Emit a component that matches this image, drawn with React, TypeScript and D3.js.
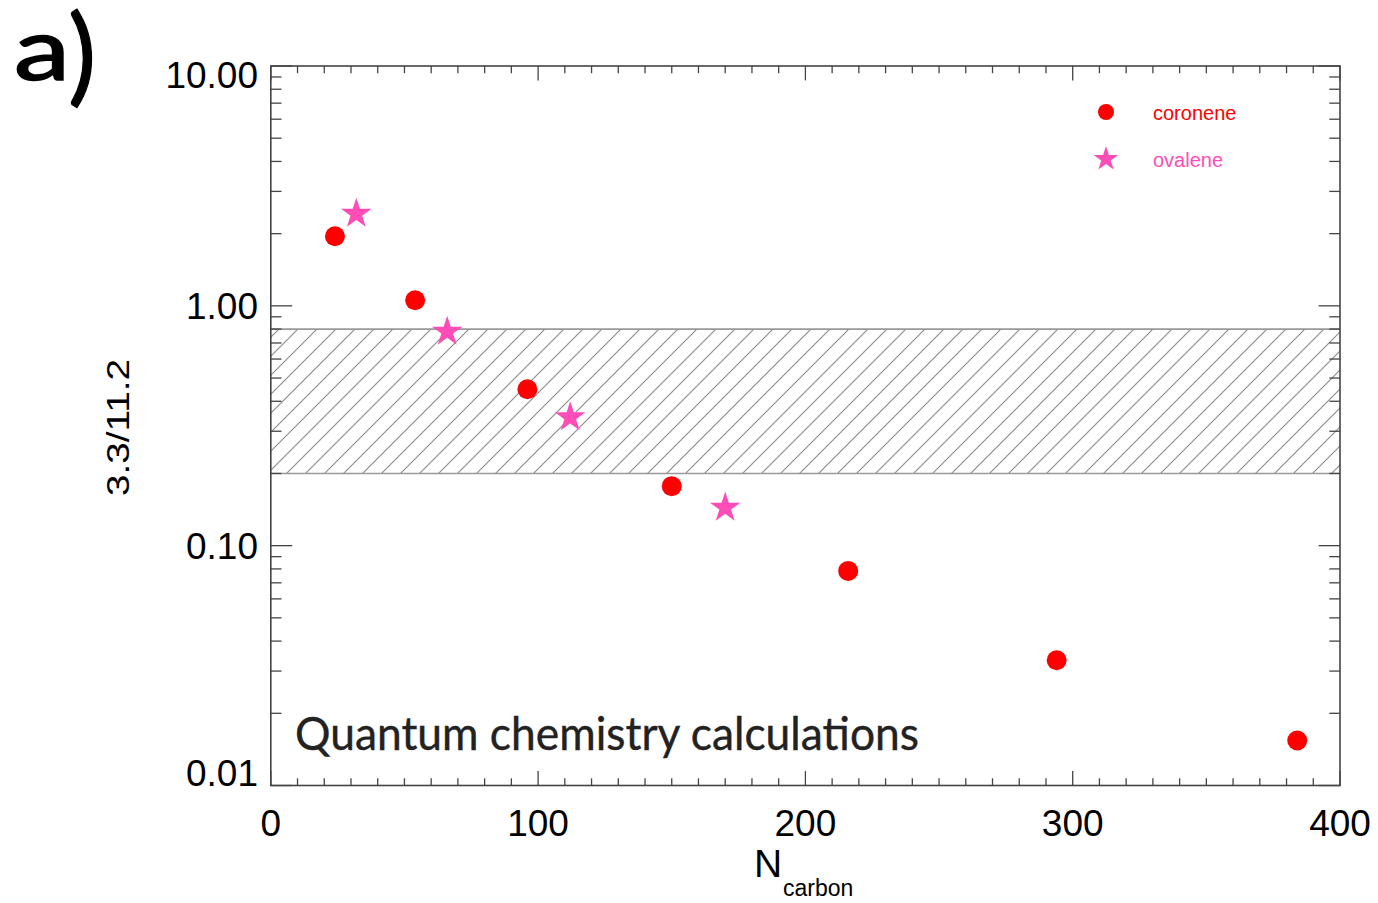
import React from "react";
import * as d3 from "d3";

const coroneneN = [24, 54, 96, 150, 216, 294, 384];
const coroneneRatio = [1.95, 1.055, 0.449, 0.177, 0.0785, 0.0333, 0.0154];
const ovaleneN = [32, 66, 112, 170];
const ovaleneRatio = [2.42, 0.78, 0.343, 0.144];
const bandRange = [0.2, 0.8];
const xTickValues = [0, 100, 200, 300, 400];
const yTickValues = [10, 1, 0.1, 0.01];
const yTickLabels = ["10.00", "1.00", "0.10", "0.01"];

const W = 1378;
const H = 903;
const L = 270.8, R = 1340, T = 66, B = 785.5;

export default function App() {
  const x = d3.scaleLinear().domain([0, 400]).range([L, R]);
  const y = d3.scaleLog().domain([0.01, 10]).range([B, T]);

  const xMinor = d3.range(0, 401, 10);
  const yMinor: number[] = [];
  [0.01, 0.1, 1].forEach((d) => {
    for (let k = 2; k <= 9; k++) yMinor.push(d * k);
  });

  const majX = 14.4, minX = 7.2, majY = 21.4, minY = 10.7;
  const axisColor = "#444";
  const star = d3.symbol(d3.symbolStar, 290)() as string;
  const starSmall = d3.symbol(d3.symbolStar, 190)() as string;
  const red = "#ff0000";
  const pink = "#ff4db8";
  const tickFont = "'Liberation Sans', Arial, Helvetica, sans-serif";
  const humanist = "Lato, 'Open Sans', sans-serif";

  return (
    <svg width={W} height={H} style={{ display: "block", position: "absolute", left: 0, top: 0 }}>
      <defs>
        <pattern id="hatch" patternUnits="userSpaceOnUse" width={19} height={19}>
          <path d="M0,19 L19,0 M-5,5 L5,-5 M14,24 L24,14" stroke="#8a8a8a" strokeWidth={1.1} />
        </pattern>
        <clipPath id="plotClip">
          <rect x={L} y={T} width={R - L} height={B - T} />
        </clipPath>
      </defs>
      <rect x={0} y={0} width={W} height={H} fill="#fff" />

      {/* hatched band */}
      <rect
        x={L}
        y={y(bandRange[1])}
        width={R - L}
        height={y(bandRange[0]) - y(bandRange[1])}
        fill="url(#hatch)"
      />
      <line x1={L} x2={R} y1={y(bandRange[1])} y2={y(bandRange[1])} stroke="#999" strokeWidth={1.6} />
      <line x1={L} x2={R} y1={y(bandRange[0])} y2={y(bandRange[0])} stroke="#999" strokeWidth={1.6} />

      {/* ticks */}
      <g stroke={axisColor} strokeWidth={1.3}>
        {xMinor.map((v) => {
          const major = v % 100 === 0;
          const len = major ? majX : minX;
          return (
            <g key={"x" + v}>
              <line x1={x(v)} x2={x(v)} y1={B} y2={B - len} />
              <line x1={x(v)} x2={x(v)} y1={T} y2={T + len} />
            </g>
          );
        })}
        {yTickValues.map((v) => (
          <g key={"yM" + v}>
            <line x1={L} x2={L + majY} y1={y(v)} y2={y(v)} />
            <line x1={R} x2={R - majY} y1={y(v)} y2={y(v)} />
          </g>
        ))}
        {yMinor.map((v) => (
          <g key={"ym" + v}>
            <line x1={L} x2={L + minY} y1={y(v)} y2={y(v)} />
            <line x1={R} x2={R - minY} y1={y(v)} y2={y(v)} />
          </g>
        ))}
      </g>

      {/* frame */}
      <rect x={L} y={T} width={R - L} height={B - T} fill="none" stroke={axisColor} strokeWidth={1.6} />

      {/* tick labels */}
      <g fontFamily={tickFont} fontSize={37} fill="#000">
        {yTickValues.map((v, i) => {
          const cy = Math.min(Math.max(y(v), 75), 773);
          return (
            <text key={"yl" + v} x={258} y={cy + 13} textAnchor="end">
              {yTickLabels[i]}
            </text>
          );
        })}
        {xTickValues.map((v) => (
          <text key={"xl" + v} x={x(v)} y={836} textAnchor="middle">
            {v}
          </text>
        ))}
      </g>

      {/* axis titles */}
      <text
        fontFamily={tickFont}
        fontSize={31}
        textLength={137}
        lengthAdjust="spacingAndGlyphs"
        transform="translate(129,496) rotate(-90)"
        fill="#000"
      >
        3.3/11.2
      </text>
      <text fontFamily={tickFont} fontSize={39} x={754} y={877} fill="#000">N</text>
      <text fontFamily={tickFont} fontSize={23} x={783} y={896} fill="#000">carbon</text>

      {/* data */}
      <g clipPath="url(#plotClip)">
        {coroneneN.map((n, i) => (
          <circle key={"c" + i} cx={x(n)} cy={y(coroneneRatio[i])} r={10} fill={red} />
        ))}
        {ovaleneN.map((n, i) => (
          <path key={"o" + i} d={star} transform={`translate(${x(n)},${y(ovaleneRatio[i])})`} fill={pink} />
        ))}
      </g>

      {/* legend */}
      <circle cx={1106} cy={112} r={8} fill={red} />
      <text x={1153} y={120} fontFamily={tickFont} fontSize={20} fill={red}>coronene</text>
      <path d={starSmall} transform="translate(1106,159)" fill={pink} />
      <text x={1153} y={167} fontFamily={tickFont} fontSize={20} fill={pink}>ovalene</text>

      {/* annotations */}
      <text
        x={295}
        y={750}
        fontFamily={humanist}
        fontSize={46}
        textLength={624}
        lengthAdjust="spacingAndGlyphs"
        fill="#222"
        stroke="#222"
        strokeWidth={0.4}
      >
        Quantum chemistry calculations
      </text>
      <text
        x={14}
        y={80}
        fontFamily={humanist}
        fontSize={88}
        textLength={56}
        lengthAdjust="spacingAndGlyphs"
        fill="#000"
        stroke="#000"
        strokeWidth={1.6}
      >
        a
      </text>
      <text x={68} y={92} fontFamily={humanist} fontSize={106} fill="#000" stroke="#000" strokeWidth={1.2}>
        )
      </text>
    </svg>
  );
}
